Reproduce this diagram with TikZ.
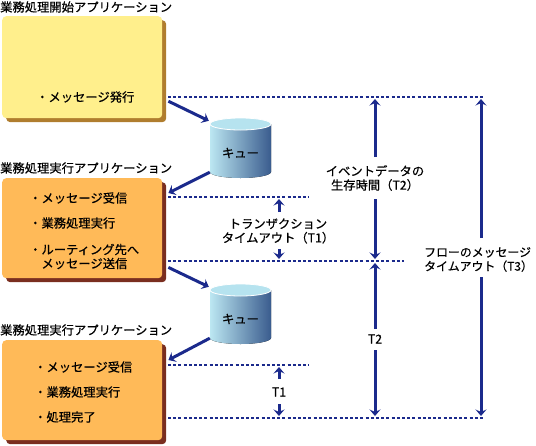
\documentclass[tikz,border=0pt]{standalone}
\usepackage{fontspec}
\setmainfont{Noto Sans CJK JP}[FakeBold=0.5]
\usetikzlibrary{arrows.meta,shadows}
\definecolor{navy}{HTML}{1B2A8C}
\definecolor{startfill}{HTML}{FFEF8C}
\definecolor{startshadow}{HTML}{B07D2E}
\definecolor{execfill}{HTML}{FFBA58}
\definecolor{execshadow}{HTML}{7A2E1F}
\definecolor{cylL}{HTML}{BCE7F2}
\definecolor{cylR}{HTML}{3A5C8E}
\definecolor{cylTop}{HTML}{B6E3EF}
\begin{document}
\begin{tikzpicture}[x=1pt,y=-1pt,
  font=\fontsize{12.3}{14}\selectfont,
  startbox/.style={rounded corners=4pt, minimum width=160pt, minimum height=102pt, anchor=north west, inner sep=0pt,
    fill=startfill, general shadow={fill=startshadow, shadow xshift=4pt, shadow yshift=-4pt}},
  execbox/.style={rounded corners=4pt, minimum width=160pt, minimum height=100pt, anchor=north west, inner sep=0pt,
    fill=execfill, general shadow={fill=execshadow, shadow xshift=4pt, shadow yshift=-4pt}},
  title/.style={anchor=west, inner sep=0pt},
  item/.style={anchor=west, inner sep=0pt, align=left},
  lab/.style={inner sep=0pt, align=center},
  cylnode/.style={minimum width=61pt, minimum height=60pt, inner sep=0pt},
  dotline/.style={navy, line width=2.5pt, dash pattern=on 3pt off 2.2pt},
  arr/.style={navy, line width=3pt, -{Stealth[length=6.5pt,width=11pt,inset=2.5pt]}},
]
\useasboundingbox (0,0) rectangle (536,445);

% titles
\node[title] (t1) at (0,7) {業務処理開始アプリケーション};
\node[title] (t2) at (0,168) {業務処理実行アプリケーション};
\node[title] (t3) at (0,330) {業務処理実行アプリケーション};

% boxes
\node[startbox] (b1) at (2,16) {};
\node[execbox] (b2) at (2,178) {};
\node[execbox] (b3) at (2,340) {};

% box texts
\node[item] (i11) at (36,97) {・メッセージ発行};
\node[item] (i21) at (29,198) {・メッセージ受信};
\node[item] (i22) at (29,223) {・業務処理実行};
\node[item] (i23) at (29,256.5) {・ルーティング先へ\\　メッセージ送信};
\node[item] (i31) at (34,367) {・メッセージ受信};
\node[item] (i32) at (34,392) {・業務処理実行};
\node[item] (i33) at (34,417) {・処理完了};

% queues
\fill[left color=cylL, right color=cylR] (210,124) -- (210,172)
  arc[start angle=180, end angle=360, x radius=30.5pt, y radius=6pt] -- (271,124) -- cycle;
\filldraw[fill=cylTop, draw=white, line width=0.8pt] (240.5,124) ellipse[x radius=30.5pt, y radius=6pt];
\node[cylnode] (q1) at (240.5,148) {};
\node[inner sep=0pt] (q1t) at (240.5,153) {キュー};

\fill[left color=cylL, right color=cylR] (210,290) -- (210,338)
  arc[start angle=180, end angle=360, x radius=30.5pt, y radius=6pt] -- (271,290) -- cycle;
\filldraw[fill=cylTop, draw=white, line width=0.8pt] (240.5,290) ellipse[x radius=30.5pt, y radius=6pt];
\node[cylnode] (q2) at (240.5,314) {};
\node[inner sep=0pt] (q2t) at (240.5,319) {キュー};

% flow arrows
\draw[arr] ([shift={(6,34)}]b1.east) -- ([shift={(-1,3)}]q1.north west);
\draw[arr] ([shift={(0,-6)}]q1.south west) -- ([shift={(6,15)}]b2.north east);
\draw[arr] ([shift={(6,-11)}]b2.south east) -- ([shift={(-1,3)}]q2.north west);
\draw[arr] ([shift={(0,-6)}]q2.south west) -- ([shift={(6,20)}]b3.north east);

% dotted lines
\coordinate (d1a) at (168,97);  \coordinate (d1b) at (484,97);
\coordinate (d2a) at (168,197); \coordinate (d2b) at (309,197);
\coordinate (d3a) at (168,261); \coordinate (d3b) at (404,261);
\coordinate (d4a) at (168,365); \coordinate (d4b) at (309,365);
\coordinate (d5a) at (168,418); \coordinate (d5b) at (484,418);
\draw[dotline] (d1a) -- (d1b);
\draw[dotline] (d2a) -- (d2b);
\draw[dotline] (d3a) -- (d3b);
\draw[dotline] (d4a) -- (d4b);
\draw[dotline] (d5a) -- (d5b);

% labels
\node[lab] (lt1) at (278,231) {トランザクション\\タイムアウト（T1）};
\node[lab] (lt1b) at (279,392) {T1};
\node[lab] (lt2) at (375,178) {イベントデータの\\生存時間（T2）};
\node[lab] (lt2b) at (375,339) {T2};
\node[lab, align=left, anchor=west, font=\fontsize{11.9}{14}\selectfont] (lt3) at (424,259.5) {フローのメッセージ\\タイムアウト（T3）};

% measurement arrows
\coordinate (t1u) at (279,199); \coordinate (t1d) at (279,259);
\coordinate (t1bu) at (279,367); \coordinate (t1bd) at (279,416);
\coordinate (t2u) at (375,99); \coordinate (t2d) at (375,259);
\coordinate (t2bu) at (375,263); \coordinate (t2bd) at (375,416);
\coordinate (t3u) at (481,99); \coordinate (t3d) at (481,416);

\draw[arr] ([yshift=19pt]lt1.center -| t1u) -- (t1u);
\draw[arr] ([yshift=-18pt]lt1.center -| t1d) -- (t1d);
\draw[arr] ([yshift=13pt]lt1b.center) -- (t1bu);
\draw[arr] ([yshift=-12pt]lt1b.center) -- (t1bd);
\draw[arr] ([yshift=21pt]lt2.center) -- (t2u);
\draw[arr] ([yshift=-21pt]lt2.center) -- (t2d);
\draw[arr] ([yshift=10pt]lt2b.center) -- (t2bu);
\draw[arr] ([yshift=-11pt]lt2b.center) -- (t2bd);
\draw[arr] ([yshift=21.5pt]lt3.west -| t3u) -- (t3u);
\draw[arr] ([yshift=-17.5pt]lt3.west -| t3d) -- (t3d);
\end{tikzpicture}
\end{document}
